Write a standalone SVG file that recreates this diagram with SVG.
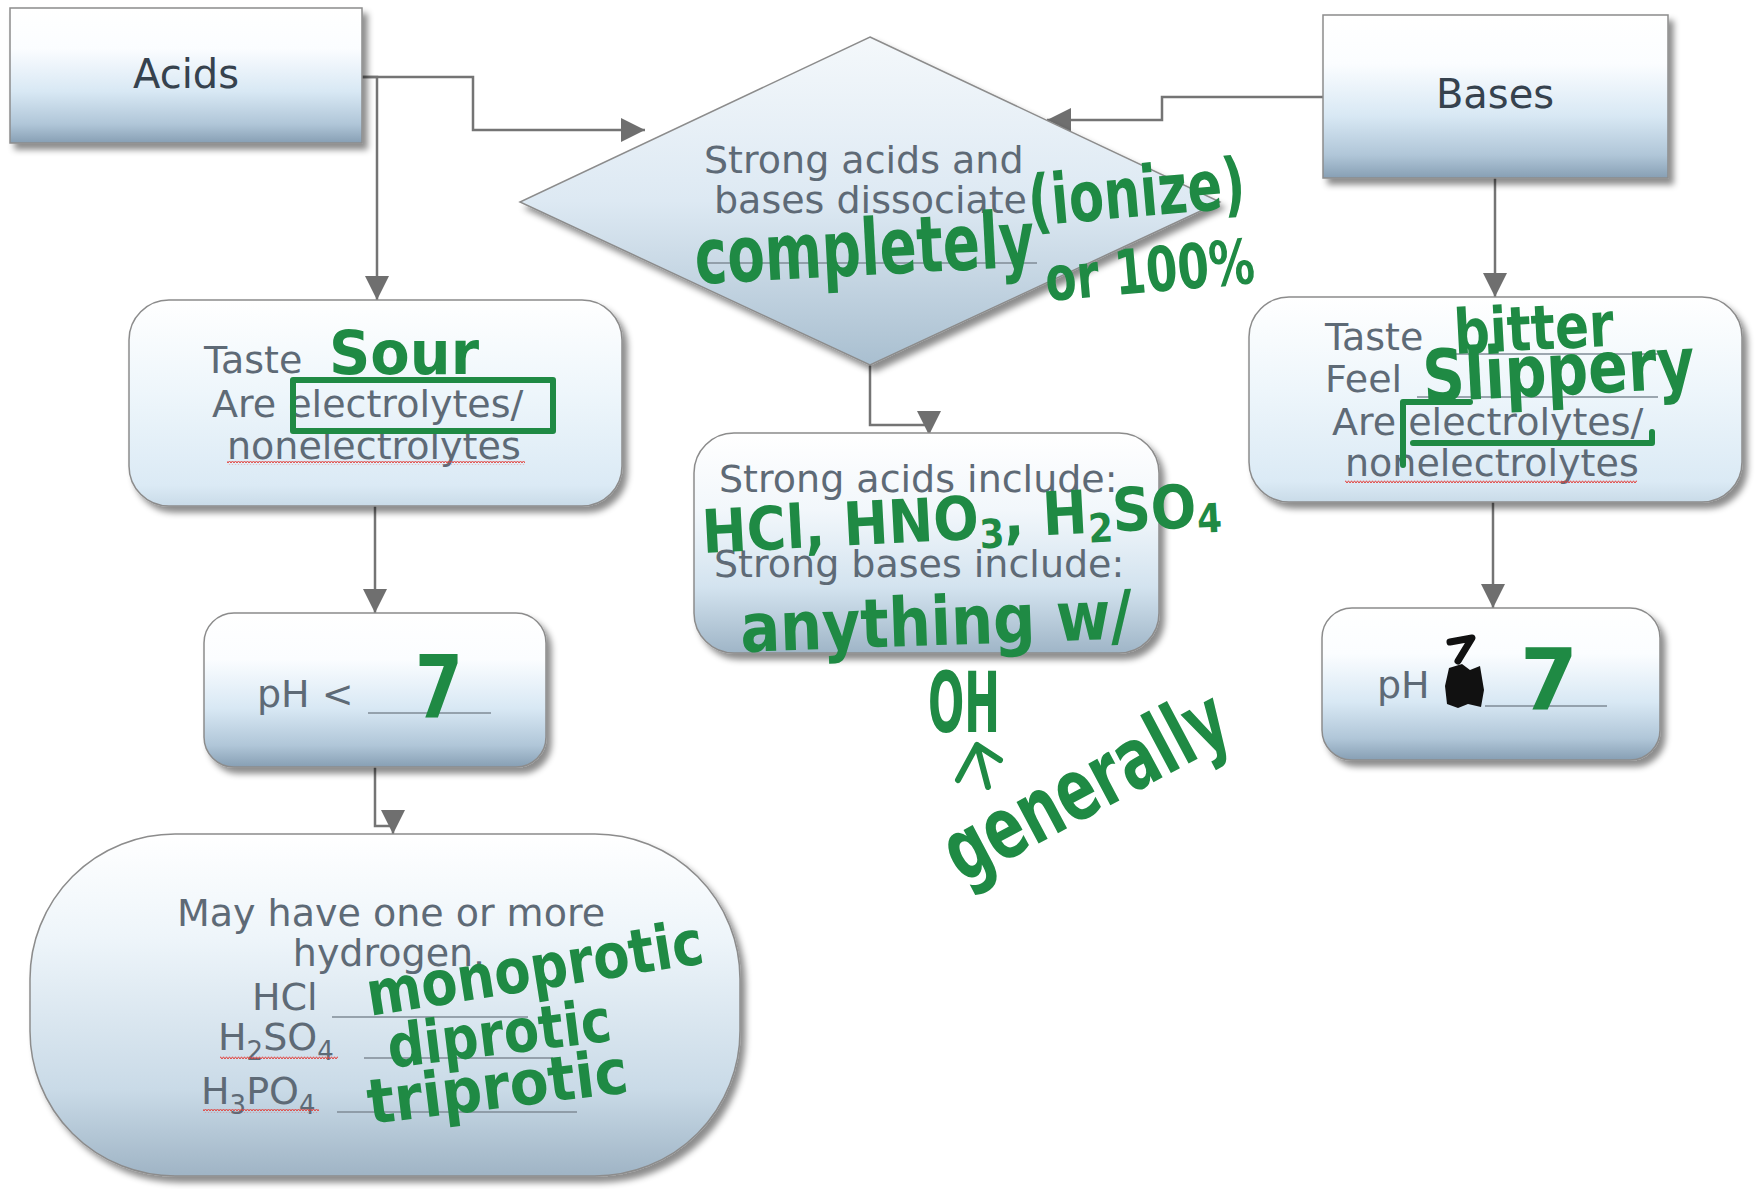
<svg xmlns="http://www.w3.org/2000/svg" width="1756" height="1189" viewBox="0 0 1756 1189">
<defs>
<linearGradient id="gTitle" x1="0" y1="0" x2="0" y2="1">
<stop offset="0" stop-color="#ffffff"/><stop offset="0.3" stop-color="#fbfdff"/><stop offset="0.62" stop-color="#d8e8f4"/><stop offset="0.86" stop-color="#b0c6d8"/><stop offset="1" stop-color="#879fb4"/>
</linearGradient>
<linearGradient id="gLight" x1="0" y1="0" x2="0" y2="1">
<stop offset="0" stop-color="#ffffff"/><stop offset="0.45" stop-color="#eef6fb"/><stop offset="0.9" stop-color="#dbeaf5"/><stop offset="1" stop-color="#c9dbe8"/>
</linearGradient>
<linearGradient id="gMid" x1="0" y1="0" x2="0" y2="1">
<stop offset="0" stop-color="#ffffff"/><stop offset="0.35" stop-color="#f2f7fb"/><stop offset="0.7" stop-color="#d3e3ef"/><stop offset="1" stop-color="#9fb5c7"/>
</linearGradient>
<linearGradient id="gDiamond" x1="0" y1="0" x2="0" y2="1">
<stop offset="0" stop-color="#f4f8fb"/><stop offset="0.5" stop-color="#dde9f3"/><stop offset="1" stop-color="#a9bfd0"/>
</linearGradient>
<linearGradient id="gPill" x1="0" y1="0" x2="0" y2="1">
<stop offset="0" stop-color="#ffffff"/><stop offset="0.3" stop-color="#eef5fa"/><stop offset="0.75" stop-color="#c9dae7"/><stop offset="1" stop-color="#9fb4c5"/>
</linearGradient>
<filter id="shadow" x="-10%" y="-10%" width="125%" height="130%">
<feDropShadow dx="5" dy="6" stdDeviation="3" flood-color="#000" flood-opacity="0.45"/>
</filter>
<marker id="arrow" markerUnits="userSpaceOnUse" markerWidth="28" markerHeight="24" viewBox="0 0 10 10" refX="10" refY="5" orient="auto">
<path d="M0,0 L10,5 L0,10 z" fill="#6f6f6f"/>
</marker>
<pattern id="wavy" width="6" height="4" patternUnits="userSpaceOnUse">
<path d="M0,3 L1.5,0.8 L3,3 L4.5,0.8 L6,3" fill="none" stroke="#e2413b" stroke-width="1"/>
</pattern>
<style>
.box{stroke:#8c8c8c;stroke-width:1.5;filter:url(#shadow)}
.t{font-family:"DejaVu Sans","Verdana",sans-serif;font-size:38px;fill:#5e6a76}
.title{font-family:"DejaVu Sans","Verdana",sans-serif;font-size:40px;fill:#36424e}
.blank{stroke:#7f8b96;stroke-width:1.5;fill:none}
.conn{stroke:#747474;stroke-width:2.5;fill:none}
.hw{font-family:"DejaVu Sans Condensed","DejaVu Sans",sans-serif;font-weight:bold;font-stretch:condensed;fill:#1f8a44}
.hwline{stroke:#1f8a44;stroke-width:6;fill:none;stroke-linecap:round;stroke-linejoin:round}
</style>
</defs>
<rect width="1756" height="1189" fill="#ffffff"/>

<g id="connectors">
<path class="conn" d="M362,77 H473 V130 H645" marker-end="url(#arrow)"/>
<path class="conn" d="M362,77 H377 V300" marker-end="url(#arrow)"/>
<path class="conn" d="M375,506 V613" marker-end="url(#arrow)"/>
<path class="conn" d="M375,767 V826 H393 V834" marker-end="url(#arrow)"/>
<path class="conn" d="M870,365 V425 H929 V435" marker-end="url(#arrow)"/>
<path class="conn" d="M1323,97 H1162 V120 H1047" marker-end="url(#arrow)"/>
<path class="conn" d="M1495,178 V297" marker-end="url(#arrow)"/>
<path class="conn" d="M1493,502 V608" marker-end="url(#arrow)"/>
</g>

<g id="acids">
<rect class="box" x="10" y="8" width="352" height="135" fill="url(#gTitle)"/>
<text class="title" x="186" y="88" text-anchor="middle">Acids</text>
</g>

<g id="bases">
<rect class="box" x="1323" y="15" width="345" height="163" fill="url(#gTitle)"/>
<text class="title" x="1495" y="108" text-anchor="middle">Bases</text>
</g>

<g id="dissociate">
<polygon class="box" points="870,37 1220,202 870,365 520,202" fill="url(#gDiamond)"/>
<text class="t" x="704" y="173">Strong acids and</text>
<text class="t" x="714" y="213">bases dissociate</text>
<line class="blank" x1="699" y1="263" x2="1037" y2="263"/>
</g>

<g id="acids-properties">
<rect class="box" x="129" y="300" width="493" height="206" rx="40" fill="url(#gLight)"/>
<text class="t" x="204" y="373">Taste</text>
<line class="blank" x1="311" y1="379" x2="543" y2="379"/>
<text class="t" x="212" y="417">Are electrolytes/</text>
<text class="t" x="227" y="459">nonelectrolytes</text>
<rect x="227" y="461" width="298" height="4" fill="url(#wavy)"/>
</g>

<g id="acids-ph">
<rect class="box" x="204" y="613" width="342" height="154" rx="30" fill="url(#gTitle)"/>
<text class="t" x="257" y="707">pH &lt;</text>
<line class="blank" x1="368" y1="713" x2="491" y2="713"/>
</g>

<g id="hydrogen">
<rect class="box" x="30" y="834" width="710" height="342" rx="145" fill="url(#gPill)"/>
<text class="t" x="391" y="926" text-anchor="middle">May have one or more</text>
<text class="t" x="389" y="966" text-anchor="middle">hydrogen.</text>
<text class="t" x="252" y="1010">HCl</text>
<line class="blank" x1="332" y1="1017" x2="528" y2="1017"/>
<text class="t" x="218" y="1050">H<tspan font-size="26" dy="10">2</tspan><tspan dy="-10">SO</tspan><tspan font-size="26" dy="10">4</tspan></text>
<rect x="220" y="1055" width="118" height="4" fill="url(#wavy)"/>
<line class="blank" x1="364" y1="1058" x2="553" y2="1058"/>
<text class="t" x="201" y="1104">H<tspan font-size="26" dy="10">3</tspan><tspan dy="-10">PO</tspan><tspan font-size="26" dy="10">4</tspan></text>
<rect x="203" y="1109" width="116" height="4" fill="url(#wavy)"/>
<line class="blank" x1="337" y1="1112" x2="577" y2="1112"/>
</g>

<g id="strong-list">
<rect class="box" x="694" y="433" width="465" height="220" rx="40" fill="url(#gMid)"/>
<text class="t" x="719" y="492">Strong acids include:</text>
<text class="t" x="714" y="577">Strong bases include:</text>
</g>

<g id="bases-properties">
<rect class="box" x="1249" y="297" width="493" height="205" rx="40" fill="url(#gLight)"/>
<text class="t" x="1325" y="350">Taste</text>
<line class="blank" x1="1443" y1="354" x2="1658" y2="354"/>
<text class="t" x="1325" y="392">Feel</text>
<line class="blank" x1="1417" y1="397" x2="1658" y2="397"/>
<text class="t" x="1332" y="435">Are electrolytes/</text>
<text class="t" x="1345" y="476">nonelectrolytes</text>
<rect x="1345" y="479" width="292" height="4" fill="url(#wavy)"/>
</g>

<g id="bases-ph">
<rect class="box" x="1322" y="608" width="338" height="152" rx="30" fill="url(#gTitle)"/>
<text class="t" x="1377" y="698">pH</text>
<line class="blank" x1="1485" y1="706" x2="1607" y2="706"/>
<path d="M1449,668 L1462,664 L1470,670 L1480,666 L1484,690 L1481,707 L1468,704 L1458,708 L1447,704 L1445,686 z" fill="#111"/>
<path d="M1450,642 L1472,638 L1458,661" fill="none" stroke="#111" stroke-width="7" stroke-linecap="round" stroke-linejoin="round"/>
</g>

<g id="annotations">
<text class="hw" x="1030" y="226" font-size="70" textLength="218" lengthAdjust="spacingAndGlyphs" transform="rotate(-5 1030 226)">(ionize)</text>
<text class="hw" x="696" y="284" font-size="78" textLength="340" lengthAdjust="spacingAndGlyphs" transform="rotate(-3 696 284)">completely</text>
<text class="hw" x="1047" y="301" font-size="62" textLength="210" lengthAdjust="spacingAndGlyphs" transform="rotate(-5 1047 301)">or 100%</text>
<text class="hw" x="329" y="374" font-size="60" textLength="150" lengthAdjust="spacingAndGlyphs">Sour</text>
<rect x="293" y="380" width="260" height="51" fill="none" class="hwline"/>
<text class="hw" x="1455" y="354" font-size="62" textLength="160" lengthAdjust="spacingAndGlyphs" transform="rotate(-3 1455 354)">bitter</text>
<text class="hw" x="1424" y="402" font-size="72" textLength="272" lengthAdjust="spacingAndGlyphs" transform="rotate(-3 1424 402)">Slippery</text>
<path class="hwline" d="M1403,465 V402 H1470 M1413,443 H1652 V432"/>
<text class="hw" x="415" y="718" font-size="88" textLength="48" lengthAdjust="spacingAndGlyphs">7</text>
<text class="hw" x="1520" y="710" font-size="86" textLength="58" lengthAdjust="spacingAndGlyphs">7</text>
<text class="hw" x="703" y="553" font-size="60" textLength="520" lengthAdjust="spacingAndGlyphs" transform="rotate(-3 703 553)">HCl, HNO<tspan font-size="40" dy="10">3</tspan><tspan dy="-10">, H</tspan><tspan font-size="40" dy="10">2</tspan><tspan dy="-10">SO</tspan><tspan font-size="40" dy="6">4</tspan></text>
<text class="hw" x="741" y="652" font-size="68" textLength="392" lengthAdjust="spacingAndGlyphs" transform="rotate(-2 741 652)">anything w/</text>
<text class="hw" x="928" y="732" font-size="84" textLength="72" lengthAdjust="spacingAndGlyphs">OH</text>
<path class="hwline" d="M988,787 L977,745 M958,780 L977,745 L1000,760"/>
<text class="hw" x="962" y="884" font-size="86" textLength="310" lengthAdjust="spacingAndGlyphs" transform="rotate(-28 962 884)">generally</text>
<text class="hw" x="370" y="1016" font-size="62" textLength="340" lengthAdjust="spacingAndGlyphs" transform="rotate(-9 370 1016)">monoprotic</text>
<text class="hw" x="390" y="1068" font-size="60" textLength="225" lengthAdjust="spacingAndGlyphs" transform="rotate(-7 390 1068)">diprotic</text>
<text class="hw" x="370" y="1124" font-size="62" textLength="262" lengthAdjust="spacingAndGlyphs" transform="rotate(-7 370 1124)">triprotic</text>
</g>
</svg>
